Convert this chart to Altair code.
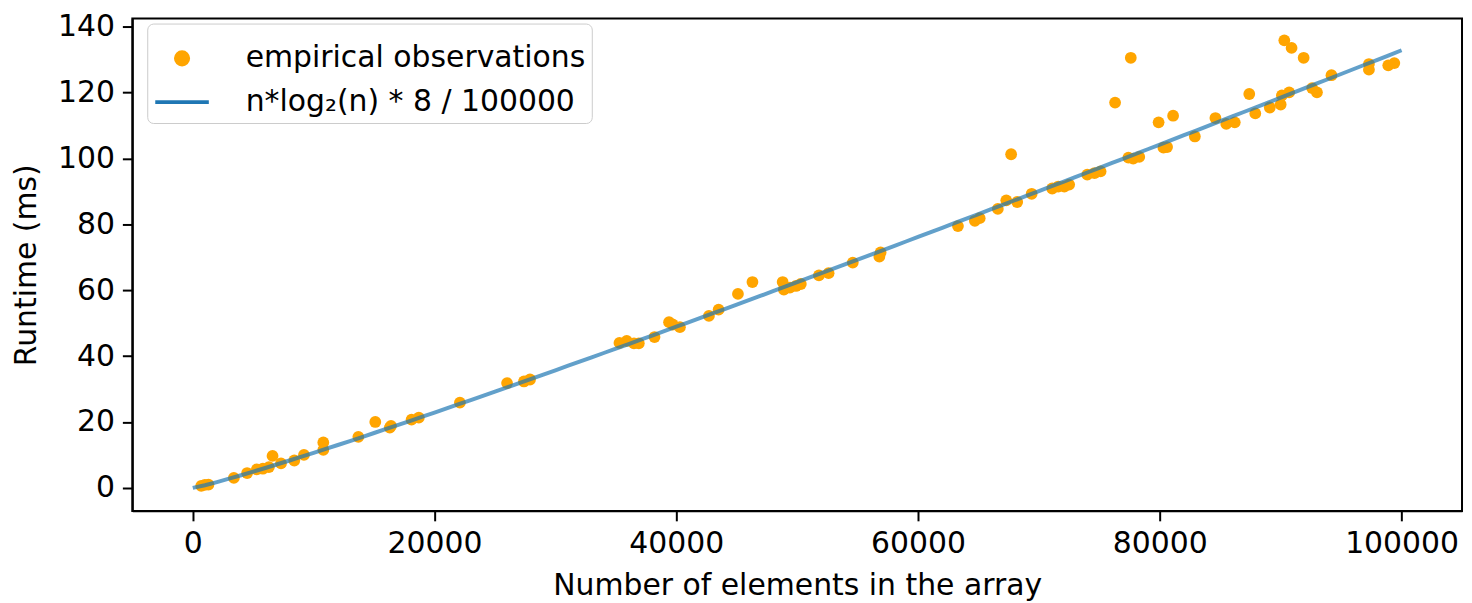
import altair as alt
import pandas as pd

# Empirical observations
n_elements = [700, 1000, 1300, 3400, 4500, 5300, 5800, 6300, 6600, 7300,
              8400, 9200, 10800, 10800, 13700, 15100, 16300, 16400, 18100, 18700,
              22100, 26000, 27400, 27900, 35300, 35900, 36500, 36900, 38200, 39400,
              39700, 40300, 42700, 43500, 45100, 46300, 48800, 48900, 49400, 49900,
              50300, 51800, 52600, 54600, 56900, 56800, 63300, 64700, 65100, 66600,
              67300, 67700, 68200, 69400, 71100, 71600, 72100, 72500, 74000, 74600,
              75100, 76300, 77600, 77400, 77800, 78300, 79900, 80300, 80600, 81100,
              82900, 84600, 85500, 86200, 87400, 87900, 89100, 90000, 90100, 90700,
              90300, 90900, 91900, 92600, 93000, 94200, 97300, 97300, 98900, 99400]
runtime_ms = [0.6, 0.9, 1.0, 3.0, 4.5, 5.6, 5.8, 6.3, 9.7, 7.4,
              8.3, 10.0, 13.8, 11.5, 15.5, 20.0, 18.3, 18.8, 20.7, 21.3,
              25.9, 31.8, 32.3, 32.9, 44.0, 44.6, 43.9, 43.9, 45.8, 50.3,
              49.6, 48.8, 52.2, 54.1, 58.9, 62.5, 62.5, 60.2, 60.8, 61.3,
              61.9, 64.5, 65.2, 68.4, 71.5, 70.2, 79.5, 81.1, 81.9, 84.7,
              87.3, 101.3, 86.8, 89.3, 90.9, 91.5, 91.5, 92.1, 95.1, 95.6,
              96.1, 117.0, 130.6, 100.3, 100.0, 100.5, 111.0, 103.3, 103.5, 113.0,
              106.7, 112.3, 110.5, 111.0, 119.6, 113.7, 115.5, 116.4, 119.2, 120.1,
              135.9, 133.6, 130.6, 121.4, 120.1, 125.3, 128.7, 127.0, 128.3, 129.0]

series_names = ["empirical observations", "n*log₂(n) * 8 / 100000"]
series_colors = ["#ffa500", "#1f77b4"]
x_ticks = [0, 20000, 40000, 60000, 80000, 100000]
y_ticks = [0, 20, 40, 60, 80, 100, 120, 140]

obs = pd.DataFrame({"n": n_elements, "t": runtime_ms, "series": series_names[0]})

FONT = "DejaVu Sans"
FS = 30

x_enc = alt.X("n:Q", title="Number of elements in the array",
              scale=alt.Scale(domain=[-5000, 105000], nice=False, zero=False),
              axis=alt.Axis(values=x_ticks, format="d"))
y_enc = alt.Y("t:Q", title="Runtime (ms)",
              scale=alt.Scale(domain=[-7, 142.5], nice=False, zero=False),
              axis=alt.Axis(values=y_ticks, format="d", titlePadding=16))

first = "datum.label == '" + series_names[0] + "'"
color_scale = alt.Scale(domain=series_names, range=series_colors)
legend = alt.Legend(
    title=None, orient="none", legendX=15, legendY=5, padding=6,
    strokeColor="#cccccc", fillColor="white", cornerRadius=6,
    labelFont=FONT, labelFontSize=FS, labelColor="black", labelLimit=0,
    labelOffset=35, rowPadding=-21,
    symbolType={"expr": first + " ? 'circle' : 'stroke'"},
    symbolSize={"expr": first + " ? 150 : 2900"},
    symbolStrokeWidth=4, symbolOpacity=1,
    symbolFillColor={"expr": first + " ? '#ffa500' : 'transparent'"},
    symbolStrokeColor={"expr": first + " ? 'transparent' : '#62a0ca'"},
)

points = alt.Chart(obs).mark_point(filled=True, size=140, opacity=1).encode(
    x=x_enc, y=y_enc,
    color=alt.Color("series:N", scale=color_scale, legend=legend),
)

fit = alt.Chart(alt.sequence(1, 100002, 1000, as_="n")).transform_calculate(
    t="datum.n * log(datum.n) / log(2) * 8 / 100000",
    series="'" + series_names[1] + "'",
).mark_line(strokeWidth=4, opacity=0.7).encode(
    x=x_enc, y=y_enc,
    color=alt.Color("series:N", scale=color_scale, legend=legend),
)

chart = alt.layer(points, fit).properties(
    width=1337, height=495,
    autosize=alt.AutoSizeParams(type="none"),
    padding={"left": 125, "top": 9, "right": 2, "bottom": 95},
).configure_view(
    stroke="black", strokeWidth=2
).configure_axis(
    grid=False, domainColor="black", domainWidth=2,
    tickColor="black", tickWidth=2, tickSize=10,
    labelFont=FONT, labelFontSize=FS, labelColor="black", labelPadding=8,
    titleFont=FONT, titleFontSize=FS, titleColor="black",
    titleFontWeight="normal", titlePadding=12,
)

chart.save("out.html", embed_options={"renderer": "svg", "actions": False})
